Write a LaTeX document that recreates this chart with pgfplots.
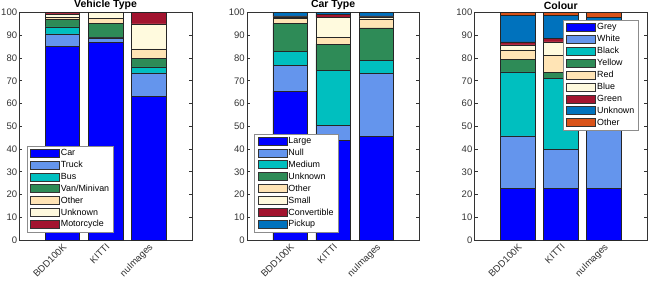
\documentclass[border=0pt]{standalone}
\usepackage{pgfplots}
\pgfplotsset{compat=1.18}
\usepackage{fontspec}
\setmainfont{Liberation Sans}
\definecolor{c1}{RGB}{0,0,255}
\definecolor{c2}{RGB}{100,149,237}
\definecolor{c3}{RGB}{0,191,191}
\definecolor{c4}{RGB}{46,139,87}
\definecolor{c5}{RGB}{255,228,181}
\definecolor{c6}{RGB}{255,250,222}
\definecolor{c7}{RGB}{162,20,47}
\definecolor{c8}{RGB}{0,114,189}
\definecolor{c9}{RGB}{217,83,25}
\pgfplotsset{
 barlegend/.style={legend image code/.code={\draw[##1,draw=black!80,line width=0.6pt] (0pt,-4pt) rectangle (29pt,4pt);}},
 mystack/.style={
  ybar stacked, bar width=0.8,
  scale only axis, width=172.5pt, height=227.5pt,
  anchor=south west,
  xmin=0, xmax=4, ymin=0, ymax=100,
  xtick={1,2,3}, xticklabels={BDD100K,KITTI,nuImages},
  ytick={0,10,...,100},
  tick align=inside, xtick pos=both, ytick pos=both,
  major tick length=3pt,
  axis line style={draw=black!80, line width=0.5pt},
  tick style={draw=black!80, line width=0.5pt},
  /pgf/number format/assume math mode=true,
  xticklabel style={rotate=45, anchor=north east, font=\fontsize{9.5}{10}\selectfont, text=black!80, inner sep=2pt},
  yticklabel style={font=\fontsize{9.5}{10}\selectfont, text=black!80, inner sep=2pt},
  title style={font=\bfseries\fontsize{10.5}{11}\selectfont, yshift=-7pt},
  legend style={font=\fontsize{8.9}{10}\selectfont, draw=black!45, fill=white, line width=0.5pt,
     inner xsep=3pt, inner ysep=2pt, row sep=1.4pt, nodes={inner sep=1.3pt}},
  legend cell align=left,
  every axis plot post/.append style={draw=black!85, line width=0.5pt, barlegend},
 }
}
\begin{document}
\begin{tikzpicture}
\useasboundingbox (0,0) rectangle (648pt,284pt);
% Panel 1
\begin{axis}[mystack, at={(19.3pt,44pt)}, title={Vehicle Type},
  legend style={at={(0.043,0.035)}, anchor=south west}]
\addplot[fill=c1] coordinates {(1,85.1) (2,86.8) (3,63.1)};
\addplot[fill=c2] coordinates {(1,5.5) (2,2.1) (3,10.4)};
\addplot[fill=c3] coordinates {(1,3.1) (2,0.2) (3,2.6)};
\addplot[fill=c4] coordinates {(1,3.2) (2,6.1) (3,3.7)};
\addplot[fill=c5] coordinates {(1,0.9) (2,2.2) (3,4.2)};
\addplot[fill=c6] coordinates {(1,1.6) (2,2.5) (3,11.0)};
\addplot[fill=c7] coordinates {(1,0.6) (2,0.1) (3,5.0)};
\legend{Car,Truck,Bus,Van/Minivan,Other,Unknown,Motorcycle}
\end{axis}
% Panel 2
\begin{axis}[mystack, at={(246.9pt,44pt)}, title={Car Type},
  legend style={at={(0.043,0.035)}, anchor=south west}]
\addplot[fill=c1] coordinates {(1,65.4) (2,43.9) (3,45.5)};
\addplot[fill=c2] coordinates {(1,11.2) (2,6.6) (3,27.9)};
\addplot[fill=c3] coordinates {(1,6.4) (2,24.0) (3,5.7)};
\addplot[fill=c4] coordinates {(1,12.2) (2,11.6) (3,14.1)};
\addplot[fill=c5] coordinates {(1,2.2) (2,2.9) (3,4.0)};
\addplot[fill=c6] coordinates {(1,0.7) (2,8.8) (3,0.9)};
\addplot[fill=c7] coordinates {(1,0.4) (2,1.3) (3,0.4)};
\addplot[fill=c8] coordinates {(1,1.5) (2,0.9) (3,1.5)};
\legend{Large,Null,Medium,Unknown,Other,Small,Convertible,Pickup}
\end{axis}
% Panel 3
\begin{axis}[mystack, at={(474.5pt,44pt)}, title={Colour},
  legend style={at={(0.953,0.967)}, anchor=north east}]
\addplot[fill=c1] coordinates {(1,22.7) (2,22.7) (3,22.7)};
\addplot[fill=c2] coordinates {(1,23.1) (2,17.0) (3,33.0)};
\addplot[fill=c3] coordinates {(1,28.1) (2,31.3) (3,20.0)};
\addplot[fill=c4] coordinates {(1,5.5) (2,2.8) (3,3.0)};
\addplot[fill=c5] coordinates {(1,4.2) (2,7.5) (3,4.0)};
\addplot[fill=c6] coordinates {(1,2.2) (2,5.8) (3,2.0)};
\addplot[fill=c7] coordinates {(1,1.3) (2,1.5) (3,1.5)};
\addplot[fill=c8] coordinates {(1,11.6) (2,10.1) (3,11.6)};
\addplot[fill=c9] coordinates {(1,1.3) (2,1.3) (3,2.2)};
\legend{Grey,White,Black,Yellow,Red,Blue,Green,Unknown,Other}
\end{axis}
\end{tikzpicture}
\end{document}
